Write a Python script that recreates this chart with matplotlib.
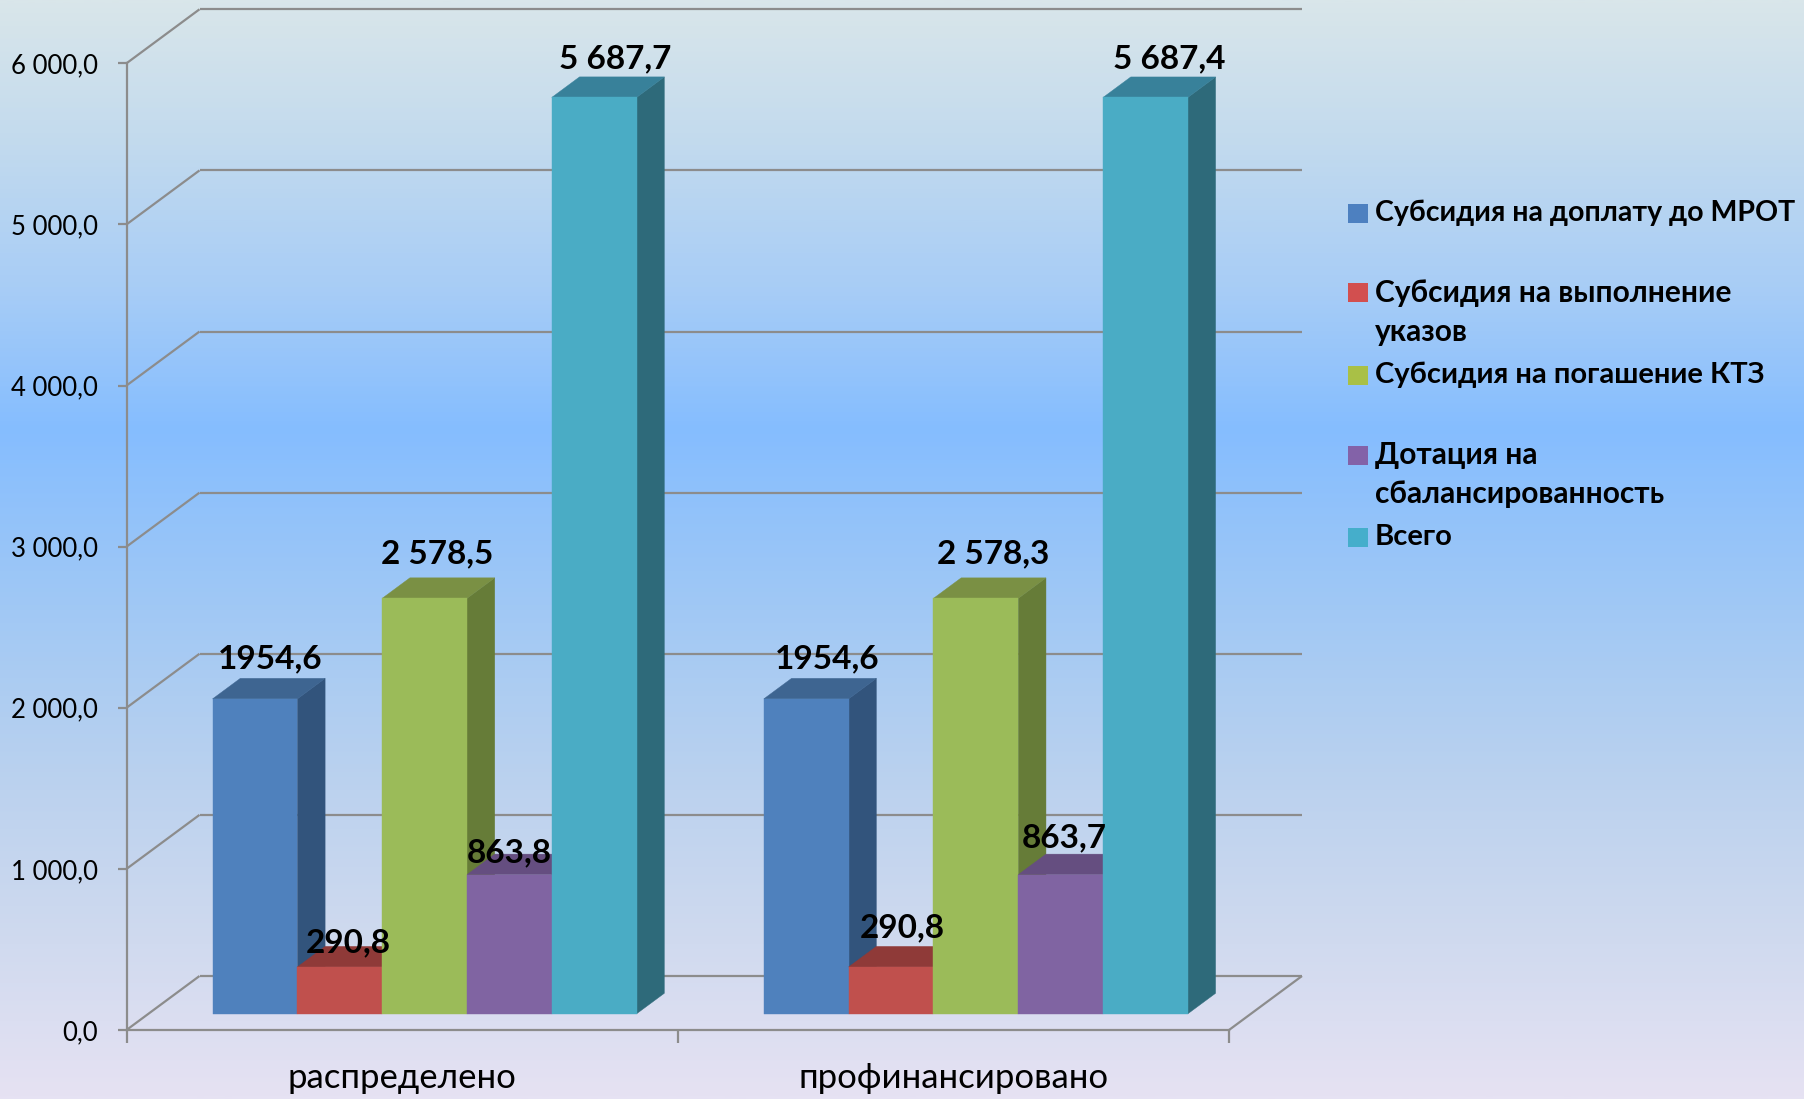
import matplotlib
matplotlib.use("Agg")
import matplotlib.pyplot as plt
import numpy as np
from matplotlib.colors import LinearSegmentedColormap
from matplotlib.patches import Polygon, Rectangle

W, H = 1804, 1099
FONT = ['Lato', 'Noto Sans', 'DejaVu Sans']
plt.rcParams['font.family'] = FONT

categories = ['распределено', 'профинансировано']
series_names = ['Субсидия на доплату до МРОТ', 'Субсидия на выполнение\nуказов',
                'Субсидия на погашение КТЗ', 'Дотация на\nсбалансированность', 'Всего']
values_distributed = [1954.6, 290.8, 2578.5, 863.8, 5687.7]
values_financed = [1954.6, 290.8, 2578.3, 863.7, 5687.4]
labels_distributed = ['1954,6', '290,8', '2 578,5', '863,8', '5 687,7']
labels_financed = ['1954,6', '290,8', '2 578,3', '863,7', '5 687,4']
y_ticks = [0, 1000, 2000, 3000, 4000, 5000, 6000]
y_tick_labels = ['0,0', '1 000,0', '2 000,0', '3 000,0', '4 000,0', '5 000,0', '6 000,0']

front_colors = ['#4f81bd', '#c0504d', '#9bbb59', '#8064a2', '#4aacc5']
side_colors = ['#32547c', '#7f3533', '#667c38', '#54426b', '#2e6a7a']
top_colors = ['#3e6591', '#8f3a38', '#7a9044', '#654e80', '#38819a']
legend_colors = ['#4d80c0', '#d24f4f', '#a9c046', '#8362a8', '#45aecb']

# layout in figure pixels
AX_L, AX_R, AX_BOTTOM, AX_TOP = 126.5, 1229.0, 1030.0, 63.3
DEPTH_PX_X, DEPTH_PX_Y = 73.0, 54.0
BAR_D0, BAR_D1 = 0.30, 0.68
BAR_SHIFT = 0.001
N = 5
BAR_W = 1 / (N + 1.5)
GRID = '#8c8c8c'

fig = plt.figure(figsize=(W / 100, H / 100), dpi=100)

bg = fig.add_axes([0, 0, 1, 1], zorder=0)
stops = [(0.0, '#d9e6ea'), (0.13, '#c2daee'), (0.26, '#a8cdf6'), (0.39, '#85bdff'),
         (0.55, '#a0c8f5'), (0.72, '#bcd2ee'), (0.86, '#d0daef'), (1.0, '#e6e2f3')]
cmap = LinearSegmentedColormap.from_list('bg', stops)
bg.imshow(np.linspace(0, 1, 512).reshape(-1, 1), cmap=cmap, aspect='auto', extent=(0, 1, 0, 1))
bg.axis('off')

ax = fig.add_axes([AX_L / W, 1 - AX_BOTTOM / H, (AX_R - AX_L) / W, (AX_BOTTOM - AX_TOP) / H], zorder=1)
ax.patch.set_alpha(0)
ax.set_xlim(0, len(categories))
ax.set_ylim(0, 6000)
for s in ('top', 'right'):
    ax.spines[s].set_visible(False)
for s in ('left', 'bottom'):
    ax.spines[s].set_color(GRID)
    ax.spines[s].set_linewidth(1.6)
ax.set_yticks(y_ticks, y_tick_labels, fontsize=18.5)
ax.set_xticks(range(len(categories) + 1), [''] * (len(categories) + 1))
ax.set_xticks([i + 0.5 for i in range(len(categories))], categories, minor=True, fontsize=25)
ax.tick_params(axis='y', length=6.5, width=1.6, color=GRID, pad=14)
ax.tick_params(axis='x', which='major', length=9, width=1.6, color=GRID)
ax.tick_params(axis='x', which='minor', length=0, pad=23)

dx = DEPTH_PX_X / (AX_R - AX_L) * len(categories)
dy = DEPTH_PX_Y / (AX_BOTTOM - AX_TOP) * 6000


def proj(x, v, d):
    return (x + d * dx, v + d * dy)


def gline(p, q):
    ax.plot([p[0], q[0]], [p[1], q[1]], color=GRID, lw=1.6, clip_on=False, zorder=1,
            solid_capstyle='butt')


for v in y_ticks:
    gline(proj(0, v, 0), proj(0, v, 1))
    gline(proj(0, v, 1), proj(len(categories), v, 1))
gline(proj(len(categories), 0, 0), proj(len(categories), 0, 1))


def poly(points, color, z):
    ax.add_patch(Polygon(points, closed=True, facecolor=color, edgecolor=color, lw=0.3,
                         clip_on=False, zorder=z))


# hand-placed data labels: offset from the bar's front-top centre
label_offsets_distributed = [(13, 35), (7, 21), (11, 39), (0, 19), (18, 34)]
label_offsets_financed = [(18, 35), (10, 34), (15, 39), (3, 32), (21, 34)]

z = 2
for c, vals in enumerate((values_distributed, values_financed)):
    start = c + (1 - N * BAR_W) / 2 + BAR_SHIFT
    for i, v in enumerate(vals):
        l, r = start + i * BAR_W, start + (i + 1) * BAR_W
        poly([proj(r, 0, BAR_D0), proj(r, 0, BAR_D1), proj(r, v, BAR_D1), proj(r, v, BAR_D0)],
             side_colors[i], z)
        poly([proj(l, v, BAR_D0), proj(r, v, BAR_D0), proj(r, v, BAR_D1), proj(l, v, BAR_D1)],
             top_colors[i], z + 0.1)
        poly([proj(l, 0, BAR_D0), proj(r, 0, BAR_D0), proj(r, v, BAR_D0), proj(l, v, BAR_D0)],
             front_colors[i], z + 0.2)
        z += 1

# data labels on top of all bars
for c, (vals, labs, offs) in enumerate(zip((values_distributed, values_financed),
                                           (labels_distributed, labels_financed),
                                           (label_offsets_distributed, label_offsets_financed))):
    start = c + (1 - N * BAR_W) / 2 + BAR_SHIFT
    for i, (v, lab, off) in enumerate(zip(vals, labs, offs)):
        ax.annotate(lab, proj(start + (i + 0.5) * BAR_W, v, BAR_D0),
                    xytext=(off[0] * 0.72 * 1.15, off[1] * 0.72 * 1.15), textcoords='offset points',
                    ha='center', va='center', fontsize=24, fontweight='bold', color='black',
                    annotation_clip=False, zorder=100)

# legend
legend_first_line_y = [213, 293, 375, 455, 537]
legend_sizes = [20.5, 21.5, 21.0, 21.5, 21.0]
for y, name, col, size in zip(legend_first_line_y, series_names, legend_colors, legend_sizes):
    fig.patches.append(Rectangle((1348 / W, 1 - (y + 9.5) / H), 19.5 / W, 19 / H,
                                 transform=fig.transFigure, facecolor=col, edgecolor='none', zorder=5))
    for k, line in enumerate(name.split('\n')):
        fig.text(1375 / W, 1 - (y + k * 39) / H, line, fontsize=size, fontweight='bold',
                 ha='left', va='center', color='black', zorder=5)

fig.savefig('out.png', dpi=100)
